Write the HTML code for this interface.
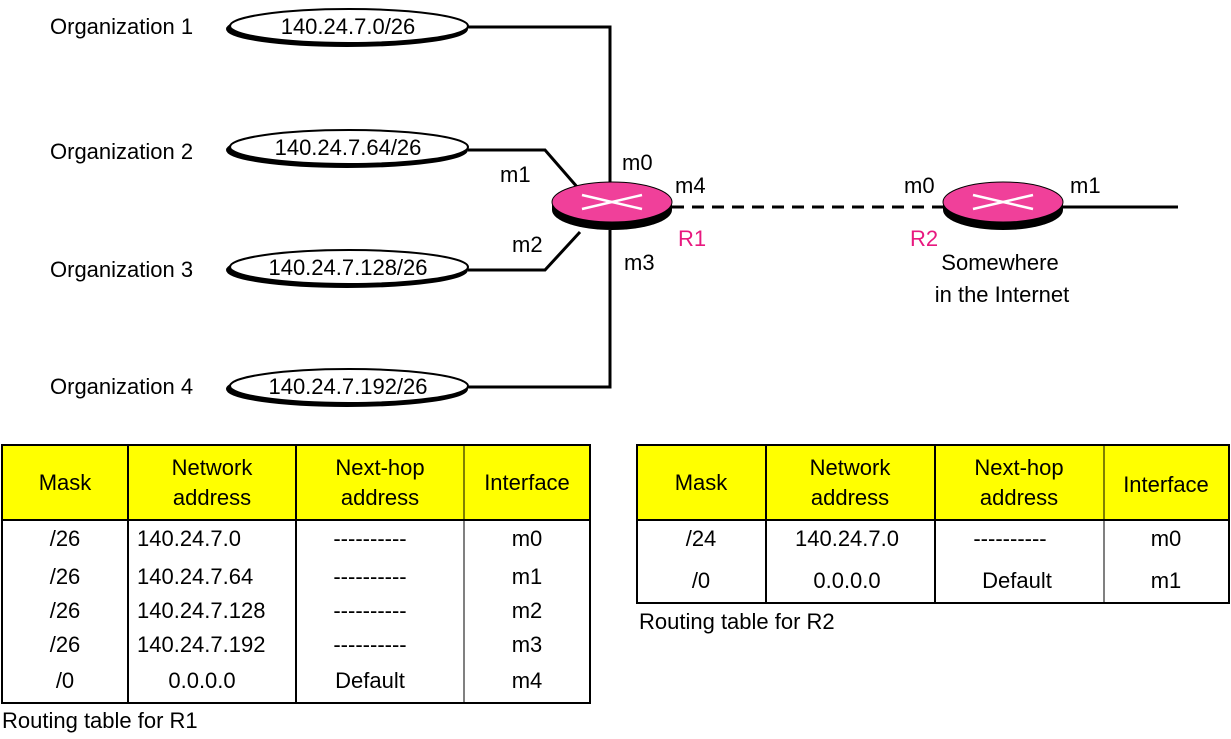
<!DOCTYPE html>
<html><head><style>
body{margin:0;background:#fff}
svg{display:block}
text{font-family:"Liberation Sans",sans-serif;font-size:22px;fill:#000}
</style></head><body>
<svg width="1231" height="739" viewBox="0 0 1231 739" xmlns="http://www.w3.org/2000/svg">
<!-- lines -->
<g stroke="#000" stroke-width="3" fill="none">
<polyline points="468,27 610,27 610,190"/>
<polyline points="468,150 545,150 578,188"/>
<polyline points="468,270 545,270 580,232"/>
<polyline points="468,387 610,387 610,230"/>
<line x1="672" y1="207" x2="943" y2="207" stroke-dasharray="12,8"/>
<line x1="1063" y1="207" x2="1178" y2="207"/>
</g>
<!-- ellipses -->
<g stroke="#000" stroke-width="2" fill="#fff">
<ellipse cx="347" cy="29" rx="120" ry="17" fill="#000"/><ellipse cx="349" cy="26" rx="119" ry="17"/>
<ellipse cx="347" cy="150" rx="120" ry="17" fill="#000"/><ellipse cx="349" cy="147" rx="119" ry="17"/>
<ellipse cx="347" cy="270" rx="120" ry="17" fill="#000"/><ellipse cx="349" cy="267" rx="119" ry="17"/>
<ellipse cx="347" cy="389" rx="120" ry="17" fill="#000"/><ellipse cx="349" cy="386" rx="119" ry="17"/>
</g>
<text x="348" y="34" text-anchor="middle">140.24.7.0/26</text>
<text x="348" y="155" text-anchor="middle">140.24.7.64/26</text>
<text x="348" y="275" text-anchor="middle">140.24.7.128/26</text>
<text x="348" y="394" text-anchor="middle">140.24.7.192/26</text>
<text x="50" y="34">Organization 1</text>
<text x="50" y="159">Organization 2</text>
<text x="50" y="277">Organization 3</text>
<text x="50" y="394">Organization 4</text>
<!-- routers -->
<g>
<ellipse cx="612" cy="210" rx="60" ry="20" fill="#000"/>
<rect x="552" y="202" width="120" height="8" fill="#000"/>
<ellipse cx="612" cy="202" rx="60" ry="20" fill="#f0409a" stroke="#000" stroke-width="1"/>
<line x1="582" y1="195" x2="642" y2="209" stroke="#fff" stroke-width="2.5"/>
<line x1="582" y1="209" x2="642" y2="195" stroke="#fff" stroke-width="2.5"/>
<ellipse cx="1003" cy="210" rx="60" ry="20" fill="#000"/>
<rect x="943" y="202" width="120" height="8" fill="#000"/>
<ellipse cx="1003" cy="202" rx="60" ry="20" fill="#f0409a" stroke="#000" stroke-width="1"/>
<line x1="973" y1="195" x2="1033" y2="209" stroke="#fff" stroke-width="2.5"/>
<line x1="973" y1="209" x2="1033" y2="195" stroke="#fff" stroke-width="2.5"/>
</g>
<text x="622" y="170">m0</text>
<text x="500" y="182">m1</text>
<text x="675" y="193">m4</text>
<text x="512" y="252">m2</text>
<text x="624" y="270">m3</text>
<text x="678" y="246" style="fill:#e8187f">R1</text>
<text x="904" y="193">m0</text>
<text x="1070" y="193">m1</text>
<text x="910" y="246" style="fill:#e8187f">R2</text>
<text x="1000" y="270" text-anchor="middle">Somewhere</text>
<text x="1002" y="302" text-anchor="middle">in the Internet</text>
<!-- table R1 -->
<rect x="2" y="445" width="588" height="75" fill="#ffff00"/>
<g stroke="#000" stroke-width="2" fill="none">
<rect x="2" y="445" width="588" height="258"/>
<line x1="2" y1="520" x2="590" y2="520"/>
<line x1="128" y1="445" x2="128" y2="703"/>
<line x1="296" y1="445" x2="296" y2="703"/>
</g>
<line x1="464" y1="445" x2="464" y2="703" stroke="#000" stroke-width="1"/>
<g text-anchor="middle">
<text x="65" y="490">Mask</text>
<text x="212" y="475">Network</text><text x="212" y="505">address</text>
<text x="380" y="475">Next-hop</text><text x="380" y="505">address</text>
<text x="527" y="490">Interface</text>
<text x="65" y="546">/26</text><text x="65" y="584">/26</text><text x="65" y="618">/26</text><text x="65" y="652">/26</text><text x="65" y="688">/0</text>
<text x="370" y="546">----------</text><text x="370" y="584">----------</text><text x="370" y="618">----------</text><text x="370" y="652">----------</text><text x="370" y="688">Default</text>
<text x="527" y="546">m0</text><text x="527" y="584">m1</text><text x="527" y="618">m2</text><text x="527" y="652">m3</text><text x="527" y="688">m4</text>
<text x="202" y="688">0.0.0.0</text>
</g>
<text x="137" y="546">140.24.7.0</text><text x="137" y="584">140.24.7.64</text><text x="137" y="618">140.24.7.128</text><text x="137" y="652">140.24.7.192</text>
<text x="2" y="728">Routing table for R1</text>
<!-- table R2 -->
<rect x="637" y="445" width="592" height="75" fill="#ffff00"/>
<g stroke="#000" stroke-width="2" fill="none">
<rect x="637" y="445" width="592" height="158"/>
<line x1="637" y1="520" x2="1229" y2="520"/>
<line x1="766" y1="445" x2="766" y2="603"/>
<line x1="935" y1="445" x2="935" y2="603"/>
</g>
<line x1="1104" y1="445" x2="1104" y2="603" stroke="#000" stroke-width="1"/>
<g text-anchor="middle">
<text x="701" y="490">Mask</text>
<text x="850" y="475">Network</text><text x="850" y="505">address</text>
<text x="1019" y="475">Next-hop</text><text x="1019" y="505">address</text>
<text x="1166" y="492">Interface</text>
<text x="701" y="546">/24</text><text x="701" y="588">/0</text>
<text x="847" y="546">140.24.7.0</text><text x="847" y="588">0.0.0.0</text>
<text x="1010" y="546">----------</text><text x="1017" y="588">Default</text>
<text x="1166" y="546">m0</text><text x="1166" y="588">m1</text>
</g>
<text x="639" y="629">Routing table for R2</text>
</svg>
</body></html>
